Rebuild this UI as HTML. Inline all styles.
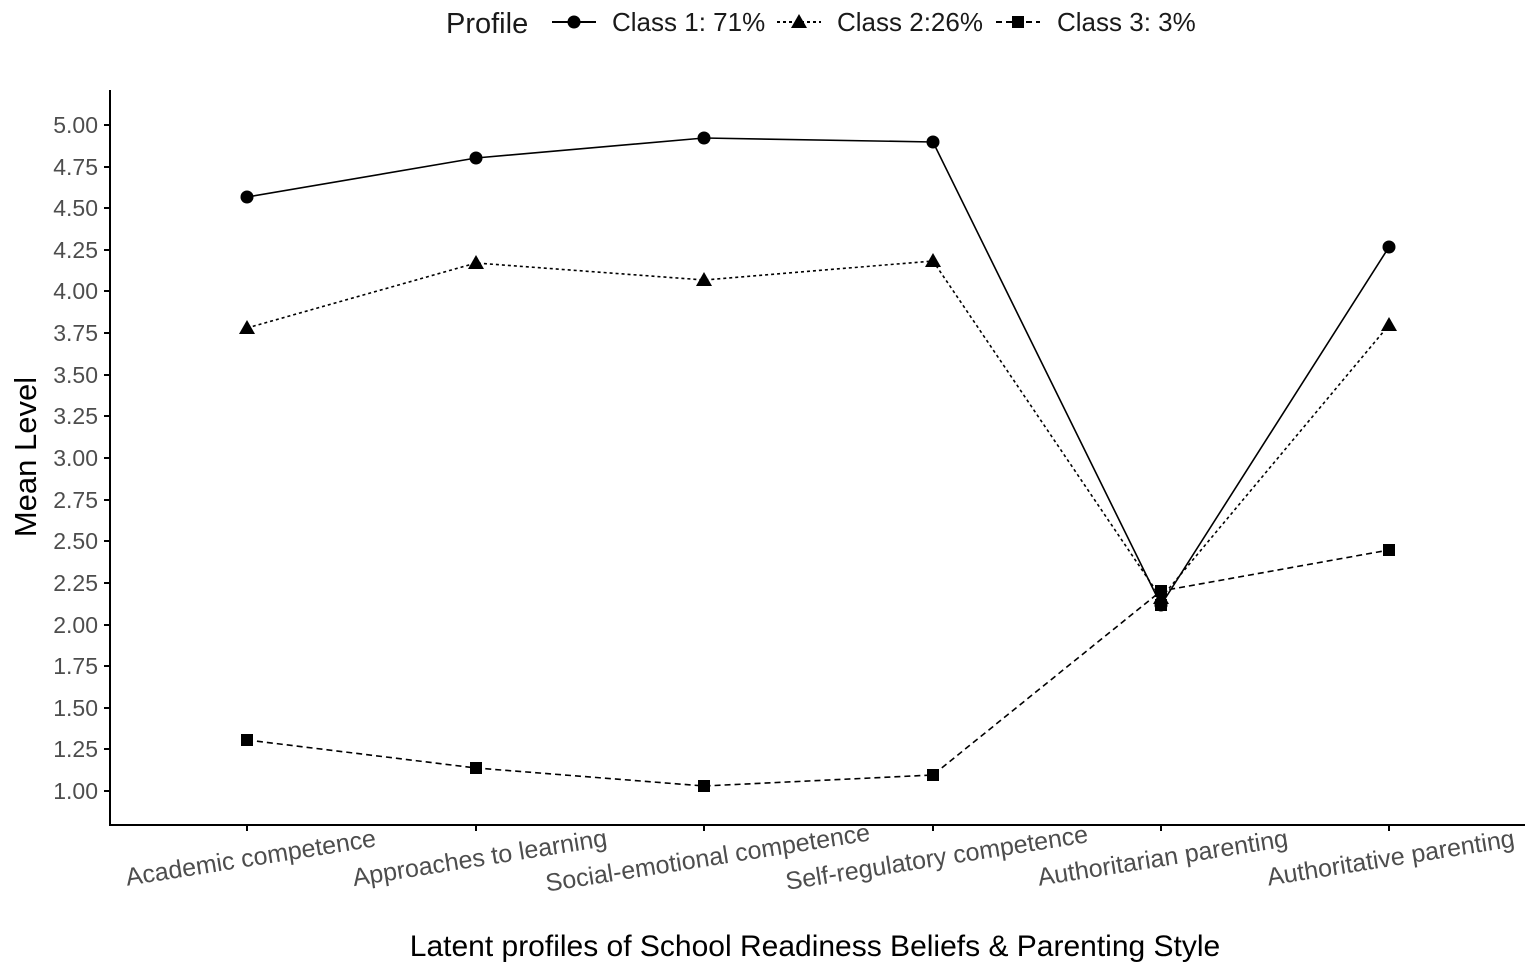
<!DOCTYPE html>
<html><head><meta charset="utf-8"><style>
html,body{margin:0;padding:0;background:#fff;}
svg{display:block;font-family:"Liberation Sans",sans-serif;}
</style></head><body>
<svg width="1535" height="973" viewBox="0 0 1535 973" xmlns="http://www.w3.org/2000/svg">
<rect width="1535" height="973" fill="#fff"/>
<!-- legend -->
<text x="446" y="33" font-size="29" fill="#1a1a1a">Profile</text>
<line x1="552" y1="22" x2="596" y2="22" stroke="#000" stroke-width="2"/>
<circle cx="574" cy="22" r="6.5" fill="#000"/>
<text x="612" y="31" font-size="26" fill="#1a1a1a">Class 1: 71%</text>
<line x1="777" y1="22" x2="821" y2="22" stroke="#000" stroke-width="2" stroke-dasharray="3,3"/>
<polygon points="799,14 807,28 791,28" fill="#000"/>
<text x="837" y="31" font-size="26" fill="#1a1a1a">Class 2:26%</text>
<line x1="996" y1="22" x2="1040" y2="22" stroke="#000" stroke-width="2" stroke-dasharray="6,4"/>
<rect x="1012" y="16" width="12" height="12" fill="#000"/>
<text x="1057" y="31" font-size="26" fill="#1a1a1a">Class 3: 3%</text>
<!-- axes -->
<line x1="110" y1="90" x2="110" y2="825" stroke="#000" stroke-width="2"/>
<line x1="109" y1="825" x2="1525" y2="825" stroke="#000" stroke-width="2"/>
<g font-size="23" fill="#4d4d4d" text-anchor="end">
<text x="98" y="133">5.00</text><text x="98" y="175">4.75</text><text x="98" y="216">4.50</text><text x="98" y="258">4.25</text>
<text x="98" y="299">4.00</text><text x="98" y="341">3.75</text><text x="98" y="383">3.50</text><text x="98" y="424">3.25</text>
<text x="98" y="466">3.00</text><text x="98" y="508">2.75</text><text x="98" y="549">2.50</text><text x="98" y="591">2.25</text>
<text x="98" y="633">2.00</text><text x="98" y="674">1.75</text><text x="98" y="716">1.50</text><text x="98" y="757">1.25</text>
<text x="98" y="799">1.00</text>
</g>
<g stroke="#000" stroke-width="2">
<line x1="104" y1="125" x2="110" y2="125"/><line x1="104" y1="167" x2="110" y2="167"/><line x1="104" y1="208" x2="110" y2="208"/><line x1="104" y1="250" x2="110" y2="250"/>
<line x1="104" y1="291" x2="110" y2="291"/><line x1="104" y1="333" x2="110" y2="333"/><line x1="104" y1="375" x2="110" y2="375"/><line x1="104" y1="416" x2="110" y2="416"/>
<line x1="104" y1="458" x2="110" y2="458"/><line x1="104" y1="500" x2="110" y2="500"/><line x1="104" y1="541" x2="110" y2="541"/><line x1="104" y1="583" x2="110" y2="583"/>
<line x1="104" y1="625" x2="110" y2="625"/><line x1="104" y1="666" x2="110" y2="666"/><line x1="104" y1="708" x2="110" y2="708"/><line x1="104" y1="749" x2="110" y2="749"/>
<line x1="104" y1="791" x2="110" y2="791"/>
<line x1="247" y1="825" x2="247" y2="831"/><line x1="476" y1="825" x2="476" y2="831"/><line x1="704" y1="825" x2="704" y2="831"/>
<line x1="933" y1="825" x2="933" y2="831"/><line x1="1161" y1="825" x2="1161" y2="831"/><line x1="1389" y1="825" x2="1389" y2="831"/>
</g>
<g font-size="25" fill="#4d4d4d" text-anchor="middle">
<text transform="translate(252,866) rotate(-9)">Academic competence</text>
<text transform="translate(481,866) rotate(-9)">Approaches to learning</text>
<text transform="translate(709,866) rotate(-9)">Social-emotional competence</text>
<text transform="translate(938,866) rotate(-9)">Self-regulatory competence</text>
<text transform="translate(1164,866) rotate(-9)">Authoritarian parenting</text>
<text transform="translate(1392,866) rotate(-9)">Authoritative parenting</text>
</g>
<text x="815" y="956" font-size="30" fill="#000" text-anchor="middle">Latent profiles of School Readiness Beliefs &amp; Parenting Style</text>
<text transform="translate(36,457) rotate(-90)" font-size="31" fill="#000" text-anchor="middle">Mean Level</text>
<!-- series -->
<polyline fill="none" stroke="#000" stroke-width="1.6" points="247,197 476,158 704,138 933,142 1161,605 1389,247"/>
<polyline fill="none" stroke="#000" stroke-width="1.6" stroke-dasharray="3,3" points="247,328 476,263 704,280 933,261 1161,598 1389,325"/>
<polyline fill="none" stroke="#000" stroke-width="1.6" stroke-dasharray="6,4" points="247,740 476,768 704,786 933,775 1161,591 1389,550"/>
<g fill="#000">
<circle cx="247" cy="197" r="6.5"/><circle cx="476" cy="158" r="6.5"/><circle cx="704" cy="138" r="6.5"/><circle cx="933" cy="142" r="6.5"/><circle cx="1161" cy="605" r="6.5"/><circle cx="1389" cy="247" r="6.5"/>
<polygon points="247,320 255,334 239,334"/><polygon points="476,255 484,269 468,269"/><polygon points="704,272 712,286 696,286"/><polygon points="933,253 941,267 925,267"/><polygon points="1161,590 1169,604 1153,604"/><polygon points="1389,317 1397,331 1381,331"/>
<rect x="241" y="734" width="12" height="12"/><rect x="470" y="762" width="12" height="12"/><rect x="698" y="780" width="12" height="12"/><rect x="927" y="769" width="12" height="12"/><rect x="1155" y="585" width="12" height="12"/><rect x="1155" y="599" width="12" height="12"/><rect x="1383" y="544" width="12" height="12"/>
</g>
</svg>
</body></html>
